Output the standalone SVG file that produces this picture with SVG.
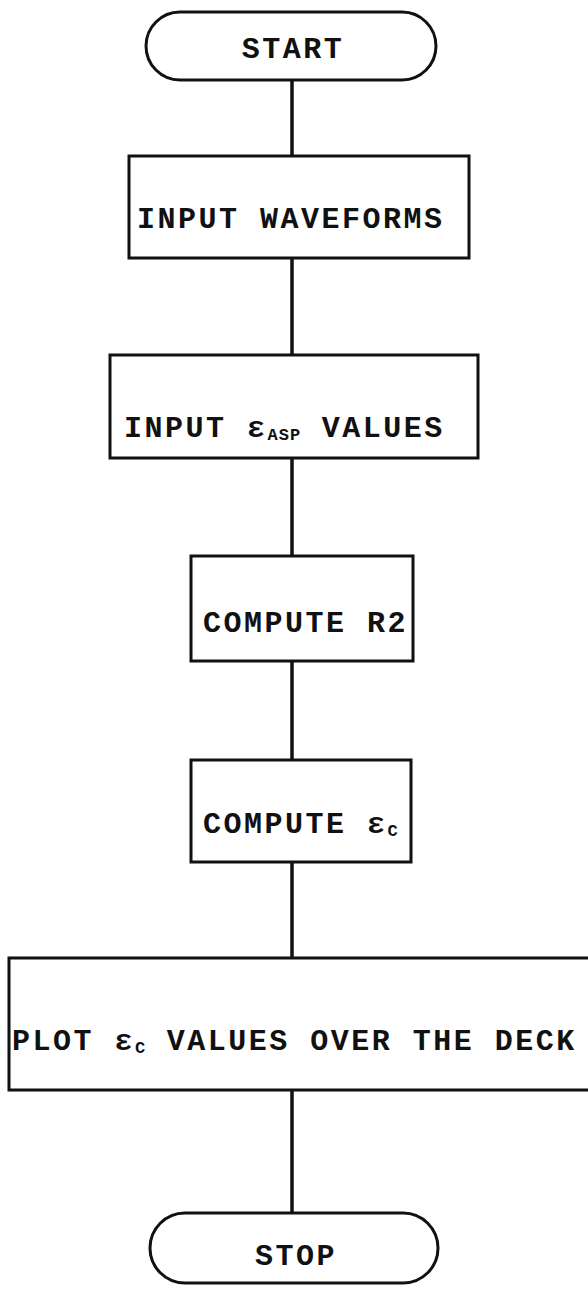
<svg xmlns="http://www.w3.org/2000/svg" width="588" height="1290" viewBox="0 0 588 1290">
<style>
.shape{fill:none;stroke:#111;stroke-width:3}
.conn{stroke:#111;stroke-width:3.5;fill:none}
.lbl{font-family:"Liberation Mono","DejaVu Sans Mono",monospace;font-weight:bold;font-size:30px;letter-spacing:2.5px;fill:#111}
.sub{font-size:17px;letter-spacing:1px}
</style>
<rect width="588" height="1290" fill="#fff"/>
<g id="connectors">
<line class="conn" x1="292" y1="80" x2="292" y2="156"/>
<line class="conn" x1="292" y1="258" x2="292" y2="355"/>
<line class="conn" x1="292" y1="458" x2="292" y2="556"/>
<line class="conn" x1="292" y1="661" x2="292" y2="760"/>
<line class="conn" x1="292" y1="862" x2="292" y2="958"/>
<line class="conn" x1="292" y1="1090" x2="292" y2="1213"/>
</g>
<g id="start">
<rect class="shape" x="146" y="12" width="290" height="68" rx="34" ry="34"/>
<text class="lbl" x="293" y="58" text-anchor="middle">START</text>
</g>
<g id="input-waveforms">
<rect class="shape" x="129" y="156" width="340" height="102"/>
<text class="lbl" x="137" y="228">INPUT WAVEFORMS</text>
</g>
<g id="input-easp">
<rect class="shape" x="110" y="355" width="368" height="103"/>
<text class="lbl" x="124" y="437">INPUT ε<tspan class="sub" dy="3">ASP</tspan><tspan dy="-3"> VALUES</tspan></text>
</g>
<g id="compute-r2">
<rect class="shape" x="191" y="556" width="222" height="105"/>
<text class="lbl" x="203" y="632">COMPUTE R2</text>
</g>
<g id="compute-ec">
<rect class="shape" x="191" y="760" width="220" height="102"/>
<text class="lbl" x="203" y="833">COMPUTE ε<tspan class="sub" dy="3">C</tspan></text>
</g>
<g id="plot">
<path class="shape" d="M590 958 H9 V1090 H590"/>
<text class="lbl" x="12" y="1050">PLOT ε<tspan class="sub" dy="3">C</tspan><tspan dy="-3"> VALUES OVER THE DECK</tspan></text>
</g>
<g id="stop">
<rect class="shape" x="150" y="1213" width="288" height="70" rx="35" ry="35"/>
<text class="lbl" x="296" y="1265" text-anchor="middle">STOP</text>
</g>
</svg>
